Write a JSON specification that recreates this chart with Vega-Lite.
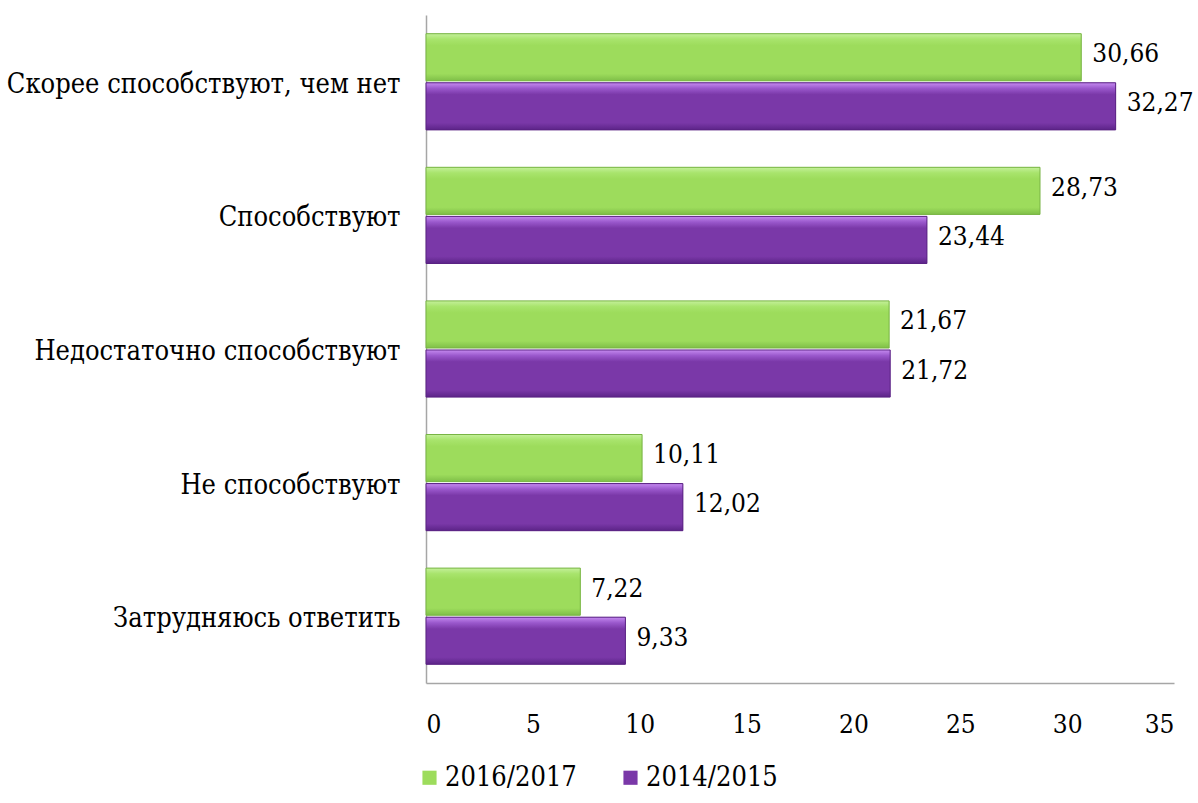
{
  "$schema": "https://vega.github.io/schema/vega-lite/v6.json",
  "width": 748,
  "height": 668,
  "autosize": {"type": "none"},
  "padding": {"left": 426, "top": 15, "right": 24, "bottom": 120},
  "background": "white",
  "config": {
    "font": "DejaVu Serif Condensed, DejaVu Serif, serif",
    "view": {"stroke": null},
    "locale": {"number": {"decimal": ",", "thousands": " ", "grouping": [3], "currency": ["", ""]}}
  },
  "data": {
    "values": [
      {"category": "Скорее способствуют, чем нет", "series": "2016/2017", "value": 30.66},
      {"category": "Скорее способствуют, чем нет", "series": "2014/2015", "value": 32.27},
      {"category": "Способствуют", "series": "2016/2017", "value": 28.73},
      {"category": "Способствуют", "series": "2014/2015", "value": 23.44},
      {"category": "Недостаточно способствуют", "series": "2016/2017", "value": 21.67},
      {"category": "Недостаточно способствуют", "series": "2014/2015", "value": 21.72},
      {"category": "Не способствуют", "series": "2016/2017", "value": 10.11},
      {"category": "Не способствуют", "series": "2014/2015", "value": 12.02},
      {"category": "Затрудняюсь ответить", "series": "2016/2017", "value": 7.22},
      {"category": "Затрудняюсь ответить", "series": "2014/2015", "value": 9.33}
    ]
  },
  "encoding": {
    "y": {
      "field": "category",
      "type": "nominal",
      "sort": ["Скорее способствуют, чем нет", "Способствуют", "Недостаточно способствуют", "Не способствуют", "Затрудняюсь ответить"],
      "scale": {"paddingInner": 0.28, "paddingOuter": 0.14},
      "axis": {
        "title": null,
        "ticks": false,
        "labelFontSize": 27,
        "labelColor": "#000000",
        "labelPadding": 26,
        "labelOffset": 3,
        "labelLimit": 500,
        "domainColor": "#a6a6a6",
        "domainWidth": 1.5
      }
    },
    "yOffset": {
      "field": "series",
      "type": "nominal",
      "scale": {"domain": ["2016/2017", "2014/2015"], "paddingInner": 0.04}
    },
    "x": {
      "field": "value",
      "type": "quantitative",
      "scale": {"domain": [0, 35], "nice": false},
      "axis": {
        "title": null,
        "values": [0, 5, 10, 15, 20, 25, 30, 35],
        "grid": false,
        "ticks": false,
        "labelFontSize": 26,
        "labelColor": "#000000",
        "labelPadding": 28,
        "domainColor": "#a6a6a6",
        "domainWidth": 1.5
      }
    }
  },
  "layer": [
    {
      "mark": {"type": "bar"},
      "encoding": {
        "color": {
          "field": "series",
          "type": "nominal",
          "scale": {"domain": ["2016/2017", "2014/2015"], "range": ["#9ddc5c", "#7a38a8"]},
          "legend": {
            "title": null,
            "orient": "none",
            "direction": "horizontal",
            "legendX": -10,
            "legendY": 749,
            "symbolType": "square",
            "symbolSize": 200,
            "symbolStrokeWidth": 0,
            "labelFontSize": 27,
            "labelColor": "#000000",
            "labelOffset": 2,
            "columnPadding": 40
          }
        }
      }
    },
    {
      "transform": [{"filter": "datum.series == '2016/2017'"}],
      "mark": {
        "type": "bar",
        "stroke": "#78b444",
        "strokeWidth": 1,
        "color": {
          "gradient": "linear", "x1": 0, "y1": 0, "x2": 0, "y2": 1,
          "stops": [
            {"offset": 0, "color": "#c4f09a"},
            {"offset": 0.12, "color": "#a8e46c"},
            {"offset": 0.25, "color": "#9ddc5c"},
            {"offset": 0.85, "color": "#9ddc5c"},
            {"offset": 1, "color": "#7fbf48"}
          ]
        }
      }
    },
    {
      "transform": [{"filter": "datum.series == '2014/2015'"}],
      "mark": {
        "type": "bar",
        "stroke": "#5a2283",
        "strokeWidth": 1,
        "color": {
          "gradient": "linear", "x1": 0, "y1": 0, "x2": 0, "y2": 1,
          "stops": [
            {"offset": 0, "color": "#c58af0"},
            {"offset": 0.12, "color": "#9a58cc"},
            {"offset": 0.25, "color": "#7a38a8"},
            {"offset": 0.85, "color": "#7a38a8"},
            {"offset": 1, "color": "#5c2488"}
          ]
        }
      }
    },
    {
      "mark": {"type": "text", "align": "left", "baseline": "middle", "dx": 11, "dy": -3, "fontSize": 26, "color": "#000000"},
      "encoding": {
        "text": {"field": "value", "type": "quantitative", "format": ".2f"}
      }
    }
  ]
}
